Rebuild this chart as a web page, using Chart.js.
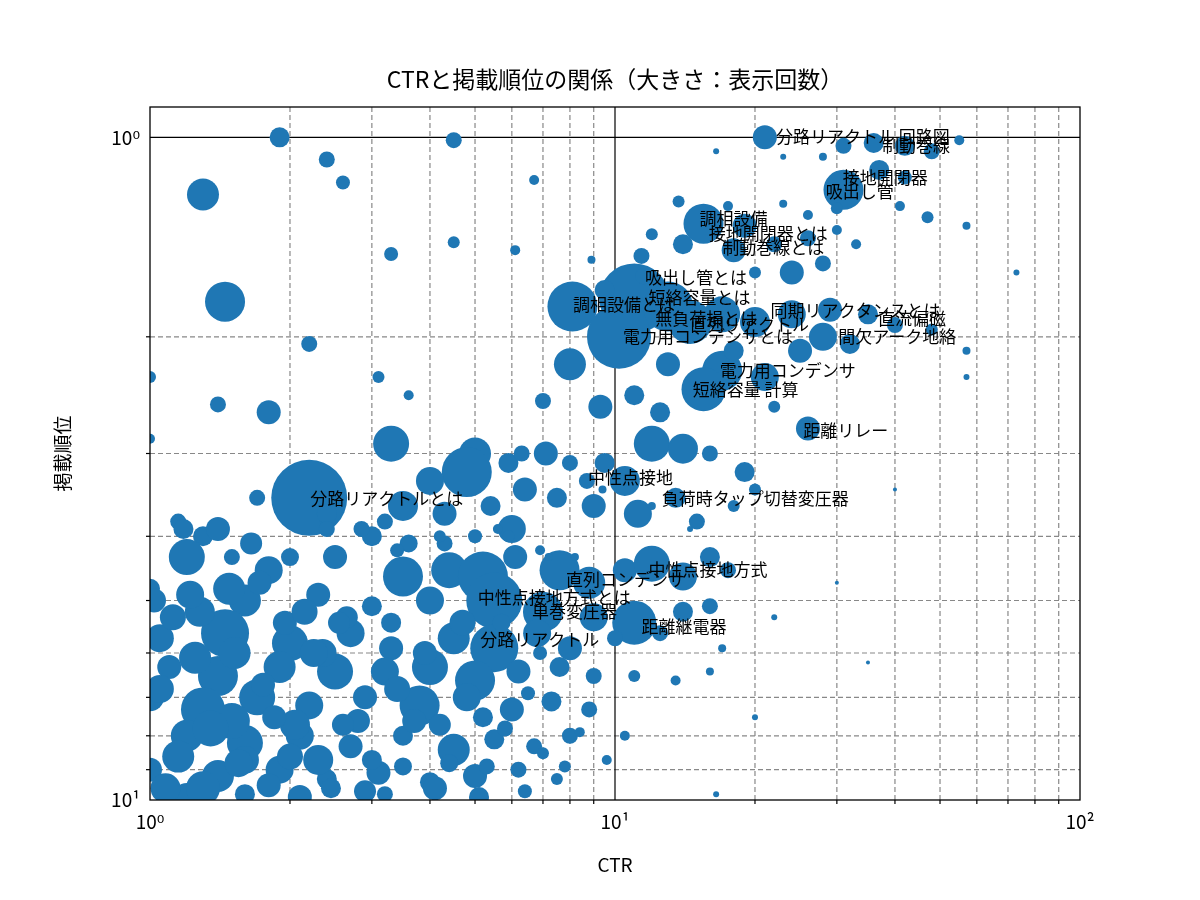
<!DOCTYPE html>
<html><head><meta charset="utf-8">
<script src="https://cdn.jsdelivr.net/npm/chart.js@4/dist/chart.umd.min.js"></script>
<style>body{margin:0;background:#fff}#w{width:1200px;height:900px}</style>
</head><body><div id="w"><canvas id="c"></canvas></div>
<script>
const ctrVals = [1.9,4.5,2.4,2.6,1.3,6.7,16.5,21,23,28,31,36,42,48,55,37,31,42,30,41,47,57,13.7,17.5,23,26,30,15.5,19,12,14,18,22,26,28,24,20,33,4.5,3.3,6.1,8.9,11.4,73,
1.45,11,13,8.1,10.2,14.5,17,20,24,29,35,40,48,57,9.5,11.5,28,32,25,17,21,13,8,2.2,1.0,3.1,18,15.5,11,12.5,9.3,7,1.8,1.4,3.6,22,26,1.0,
3.3,5.0,4.8,4.0,2.2,5.9,6.3,7.1,8.0,9.5,10.5,12,14,16,19,20,8.7,6.4,7.5,9,11.2,13.5,15,18,3.5,2.4,1.7,1.3,1.15,1.5,3.2,4.3,5.4,6,
1.2,1.8,2.5,3.5,4.4,5.2,6.1,7.6,8.8,10.5,12,14,16,17.5,1.0,1.6,2.3,3.0,4.0,5.5,7.0,9,11,14,16,1.45,1.05,2.0,2.7,3.3,4.5,5.5,6.8,8,10,12.5,
1.1,1.4,1.9,2.5,3.2,4.0,5.0,6.2,7.6,9,11,13.5,16,1.0,1.3,1.7,2.2,2.9,3.8,4.8,6,7.3,8.8,1.2,1.6,2.1,2.7,3.5,4.5,5.5,6.7,8,10.5,1.0,1.4,1.9,2.4,3.1,4,5,6.2,7.5,1.2,1.6,2.1,3.2,5.1,16.5,20,35,17,22,30,40,57,
1.05,1.25,1.5,1.75,2.05,2.35,2.8,3.4,4.2,5.2,6.5,1.15,1.35,1.6,1.85,2.3,2.6,3.0,3.7,4.4,5.8,7.0,8.4,1.08,1.3,1.55,1.8,2.0,2.45,2.9,3.5,4.1,5.3,6.4,7.8,9.6,1.12,1.28,1.52,1.95,2.25,2.65,3.3,3.9,4.7,5.7,6.9,1.02,1.22,1.48,1.72,2.15,2.55,3.0,3.6,4.3,5.0,5.9,6.9,8.2,1.18,1.4,1.65,2.0,2.4,2.85,3.4,4.2,5.6,7.2,9.4,12,14.5];
const rankVals = [1.0,1.01,1.08,1.17,1.22,1.16,1.05,1.0,1.07,1.07,1.03,1.02,1.03,1.05,1.01,1.12,1.2,1.15,1.28,1.27,1.32,1.36,1.25,1.27,1.26,1.31,1.38,1.35,1.36,1.4,1.45,1.48,1.45,1.42,1.55,1.6,1.6,1.45,1.44,1.5,1.48,1.53,1.51,1.6,
1.77,1.75,1.8,1.8,2.0,1.9,1.85,1.9,1.85,1.82,1.85,1.92,1.95,2.1,1.7,1.62,2.0,2.05,2.1,2.25,2.3,2.2,2.2,2.05,2.3,2.3,2.1,2.4,2.45,2.6,2.55,2.5,2.6,2.53,2.45,2.55,2.75,2.85,
2.9,3.0,3.2,3.3,3.5,3.1,3.0,3.0,3.1,3.1,3.3,2.9,2.95,3.0,3.2,3.4,3.3,3.4,3.5,3.6,3.7,3.5,3.8,3.6,3.6,3.7,3.5,4.0,3.8,4.3,3.8,3.7,3.6,3.9,
4.3,4.5,4.3,4.6,4.5,4.6,4.3,4.5,4.7,4.5,4.4,4.6,4.3,4.5,4.8,5.0,4.9,5.1,5.0,5.0,5.2,5.3,5.4,5.2,5.1,5.6,5.7,5.8,5.6,5.9,5.7,5.9,5.6,5.9,5.7,5.6,
6.3,6.5,6.3,6.4,6.4,6.3,6.6,6.4,6.3,6.5,6.5,6.6,6.4,7.0,7.3,7.0,7.2,7.0,7.2,7.0,7.3,7.1,7.3,8.0,8.2,8.0,8.3,8.0,8.4,8.1,8.3,8.0,8.0,9.0,9.2,9.0,9.3,9.1,9.4,9.2,9.0,9.3,9.9,9.8,9.9,9.8,9.9,9.8,7.5,6.2,5.9,5.3,4.7,3.4,2.3,
6.8,6.1,7.6,6.7,7.7,6.0,7.6,6.8,7.7,7.5,6.9,8.6,7.8,8.7,7.5,8.7,7.7,8.7,7.6,8.8,7.8,8.5,7.9,9.6,9.6,8.8,9.5,8.6,9.6,9.7,8.9,9.6,8.9,9.7,8.9,8.7,5.3,5.2,6.0,5.4,6.0,5.3,5.4,6.0,5.4,5.4,6.0,5.0,4.9,4.8,4.7,5.2,5.4,4.0,4.1,4.1,4.0,4.0,4.2,4.3,3.9,3.9,4.1,4.3,3.9,3.9,4.2,4.0,3.9,4.3,3.4,3.6,3.9];
const sizeVals = [10,8,8,7,16,5,3,12,3,4,8,10,10,8,5,10,20,7,6,5,6,4,6,5,4,5,5,20,12,6,10,12,8,8,8,12,6,5,6,7,5,4,8,3,
20,35,25,25,32,22,18,15,14,12,10,8,6,4,10,8,14,10,12,20,14,12,16,8,6,6,10,22,10,10,12,8,12,8,5,6,12,5,
18,16,25,14,38,10,8,12,8,10,15,18,15,8,10,6,8,12,10,12,14,10,8,6,15,10,8,10,8,8,8,12,10,14,
18,14,12,20,18,25,12,20,16,12,18,14,10,8,10,16,12,10,14,28,20,14,22,10,8,24,14,18,14,12,16,24,14,12,8,8,
12,20,16,18,14,18,20,12,10,8,6,5,4,14,22,18,14,12,20,14,12,10,8,16,18,14,12,10,16,10,8,8,5,12,16,14,10,12,10,12,8,6,14,10,12,8,10,3,3,2,4,3,2,2,3,
14,16,18,12,15,14,12,13,11,10,7,16,18,14,12,15,11,10,12,9,8,6,5,15,17,14,12,13,10,11,9,12,8,7,6,5,13,15,16,12,14,11,10,12,13,9,7,12,14,16,12,13,11,10,9,8,7,6,5,4,10,12,11,9,8,8,7,6,5,4,4,4,3];
const labelTexts = ["分路リアクトル 回路図","制動巻線","接地開閉器","吸出し管","調相設備","接地開閉器とは","制動巻線とは","吸出し管とは","短絡容量とは","調相設備とは","同期リアクタンスとは","無負荷損とは","直流偏磁","間欠アーク地絡","電力用コンデンサとは","直列リアクトル","電力用コンデンサ","短絡容量 計算","距離リレー","中性点接地","負荷時タップ切替変圧器","分路リアクトルとは","中性点接地方式","直列コンデンサ","中性点接地方式とは","単巻変圧器","距離継電器","分路リアクトル"];
const labelCtr = [22.2,37.5,30.9,28.4,15.2,15.9,17.0,11.6,11.8,8.12,21.6,12.2,36.8,30.2,10.4,14.5,16.8,14.7,25.4,8.75,12.6,2.21,11.8,7.85,5.07,6.63,11.4,5.13];
const labelRank = [1.0,1.03,1.15,1.21,1.33,1.40,1.47,1.63,1.75,1.79,1.83,1.88,1.88,2.0,2.0,1.92,2.25,2.41,2.77,3.27,3.51,3.51,4.50,4.66,4.96,5.2,5.49,5.74];
const xTicks = [1,10,100];
const yTicks = [1,10];
const sup = {"0":"⁰","1":"¹","2":"²"};

const pts = ctrVals.map((x,i)=>({x, y:rankVals[i], r:sizeVals[i]}));
const font = '"Noto Sans CJK JP", "DejaVu Sans", sans-serif';

const deco = {
  id:'deco',
  beforeDatasetsDraw(ch){
    const c=ch.ctx, a=ch.chartArea, xs=ch.scales.x, ys=ch.scales.y;
    c.save();
    c.lineWidth=1.2;
    for(let d=1; d<=2; d++) for(let k=2;k<=9;k++){
      const v=k*Math.pow(10,d-1), px=xs.getPixelForValue(v);
      c.strokeStyle='#888'; c.setLineDash([5,3]);
      c.beginPath(); c.moveTo(px,a.top); c.lineTo(px,a.bottom); c.stroke();
      c.setLineDash([]); c.strokeStyle='#000';
      c.beginPath(); c.moveTo(px,a.bottom); c.lineTo(px,a.bottom+4); c.stroke();
    }
    for(let k=2;k<=9;k++){
      const py=ys.getPixelForValue(k);
      c.strokeStyle='#888'; c.setLineDash([5,3]);
      c.beginPath(); c.moveTo(a.left,py); c.lineTo(a.right,py); c.stroke();
      c.setLineDash([]); c.strokeStyle='#000';
      c.beginPath(); c.moveTo(a.left-4,py); c.lineTo(a.left,py); c.stroke();
    }
    c.strokeStyle='#000'; c.setLineDash([]);
    [10].forEach(v=>{const px=xs.getPixelForValue(v);c.beginPath();c.moveTo(px,a.top);c.lineTo(px,a.bottom);c.stroke();});
    [1].forEach(v=>{const py=ys.getPixelForValue(v);c.beginPath();c.moveTo(a.left,py);c.lineTo(a.right,py);c.stroke();});
    c.restore();
  },
  afterDatasetsDraw(ch){
    const c=ch.ctx, a=ch.chartArea, xs=ch.scales.x, ys=ch.scales.y;
    c.save();
    c.fillStyle='#000'; c.font='17px '+font; c.textBaseline='alphabetic'; c.textAlign='left';
    labelTexts.forEach((t,i)=>c.fillText(t, xs.getPixelForValue(labelCtr[i]), ys.getPixelForValue(labelRank[i])+6));
    c.strokeStyle='#000'; c.lineWidth=1.3;
    c.strokeRect(a.left,a.top,a.right-a.left,a.bottom-a.top);
    c.font='23px '+font; c.textAlign='center';
    c.fillText('CTRと掲載順位の関係（大きさ：表示回数）',(a.left+a.right)/2,88);
    c.font='19px '+font;
    c.fillText('CTR',(a.left+a.right)/2,872);
    c.translate(70,(a.top+a.bottom)/2); c.rotate(-Math.PI/2);
    c.fillText('掲載順位',0,0);
    c.restore();
  }
};

new Chart(document.getElementById('c'),{
  type:'bubble',
  data:{datasets:[{data:pts, backgroundColor:'#1f77b4', borderWidth:0, clip:0}]},
  options:{
    responsive:true, maintainAspectRatio:false, animation:false,
    layout:{padding:{top:107,right:120,left:0,bottom:0}},
    plugins:{legend:{display:false},tooltip:{enabled:false}},
    scales:{
      x:{type:'logarithmic',min:1,max:100,
        afterBuildTicks:s=>{s.ticks=xTicks.map(v=>({value:v}));},
        afterFit:s=>{s.height=100;},
        grid:{display:false,drawTicks:false}, border:{display:false},
        ticks:{color:'#000',font:{size:19,family:font},padding:10,maxRotation:0,
          callback:v=>'10'+sup[String(Math.round(Math.log10(v)))]}},
      y:{type:'logarithmic',reverse:true,min:0.9,max:10,
        afterBuildTicks:s=>{s.ticks=yTicks.map(v=>({value:v}));},
        afterFit:s=>{s.width=150;},
        grid:{display:false,drawTicks:false}, border:{display:false},
        ticks:{color:'#000',font:{size:19,family:font},padding:10,
          callback:v=>'10'+sup[String(Math.round(Math.log10(v)))]}}
    }
  },
  plugins:[deco]
});
</script></body></html>
